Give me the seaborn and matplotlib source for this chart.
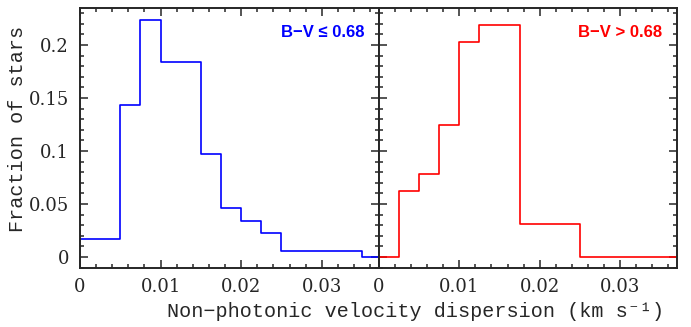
import numpy as np
import pandas as pd
import matplotlib.pyplot as plt
import seaborn as sns
from matplotlib.ticker import MultipleLocator, FixedLocator

# bins of 0.0025 km/s
bin_edges = [0, 0.0025, 0.005, 0.0075, 0.01, 0.0125, 0.015, 0.0175, 0.02,
             0.0225, 0.025, 0.0275, 0.03, 0.0325, 0.035, 0.0375]
frac_blue = [0.0173, 0.0173, 0.1436, 0.224, 0.184, 0.184, 0.0976, 0.046,
             0.0343, 0.023, 0.0057, 0.0057, 0.0057, 0.0057, 0.0]
frac_red = [0.0, 0.0624, 0.078, 0.125, 0.203, 0.219, 0.219, 0.0315,
            0.0315, 0.0315, 0.0, 0.0, 0.0, 0.0, 0.0]
yticks = [0, 0.05, 0.1, 0.15, 0.2]
ytick_labels = ["0", "0.05", "0.1", "0.15", "0.2"]
xticks = [0, 0.01, 0.02, 0.03]
xtick_labels = ["0", "0.01", "0.02", "0.03"]

centers = [(a + b) / 2 for a, b in zip(bin_edges[:-1], bin_edges[1:])]
df = pd.DataFrame({"sigma": centers, "blue": frac_blue, "red": frac_red})

sns.set_style("ticks")
plt.rcParams["font.family"] = ["DejaVu Serif"]
plt.rcParams["axes.linewidth"] = 1.4

fig = plt.figure(figsize=(6.91, 3.27), dpi=100)
ax1 = fig.add_axes([80 / 691, 59 / 327, 299 / 691, 260 / 327])
ax2 = fig.add_axes([379 / 691, 59 / 327, 298 / 691, 260 / 327])

panels = [(ax1, "blue", "#0000ff", "B\u2212V \u2264 0.68"),
          (ax2, "red", "#ff0000", "B\u2212V > 0.68")]

for ax, col, c, lab in panels:
    sns.histplot(data=df, x="sigma", weights=col, bins=bin_edges,
                 element="step", fill=False, color=c, linewidth=1.2, ax=ax)
    ax.set_xlim(0, 0.0371)
    ax.set_ylim(-0.0104, 0.235)
    ax.xaxis.set_major_locator(FixedLocator(xticks))
    ax.set_xticklabels(xtick_labels)
    ax.xaxis.set_minor_locator(MultipleLocator(0.002))
    ax.yaxis.set_major_locator(FixedLocator(yticks))
    ax.yaxis.set_minor_locator(MultipleLocator(0.01))
    ax.tick_params(which="both", direction="in", top=True, right=True,
                   labelsize=13, width=1.1)
    ax.tick_params(which="major", length=6)
    ax.tick_params(which="minor", length=3)
    ax.tick_params(axis="y", pad=8)
    ax.tick_params(axis="x", pad=7)
    ax.set_xlabel("")
    ax.set_ylabel("")
    ax.text(0.95, 0.904, lab, transform=ax.transAxes, ha="right", va="center",
            color=c, fontsize=12, fontweight="bold",
            family=["Liberation Sans", "DejaVu Sans"])

ax1.set_yticklabels(ytick_labels)
ax2.set_yticklabels([])
fig.text(0.026, 0.605, "Fraction of stars", rotation=90, ha="center",
         va="center", fontsize=14.5, family=["Liberation Mono", "DejaVu Sans Mono"])
fig.text(0.601, 0.046, "Non\u2212photonic velocity dispersion (km s\u207b\u00b9)",
         ha="center", va="center", fontsize=14.5,
         family=["Liberation Mono", "DejaVu Sans Mono"])

fig.savefig("out.png", dpi=100)
